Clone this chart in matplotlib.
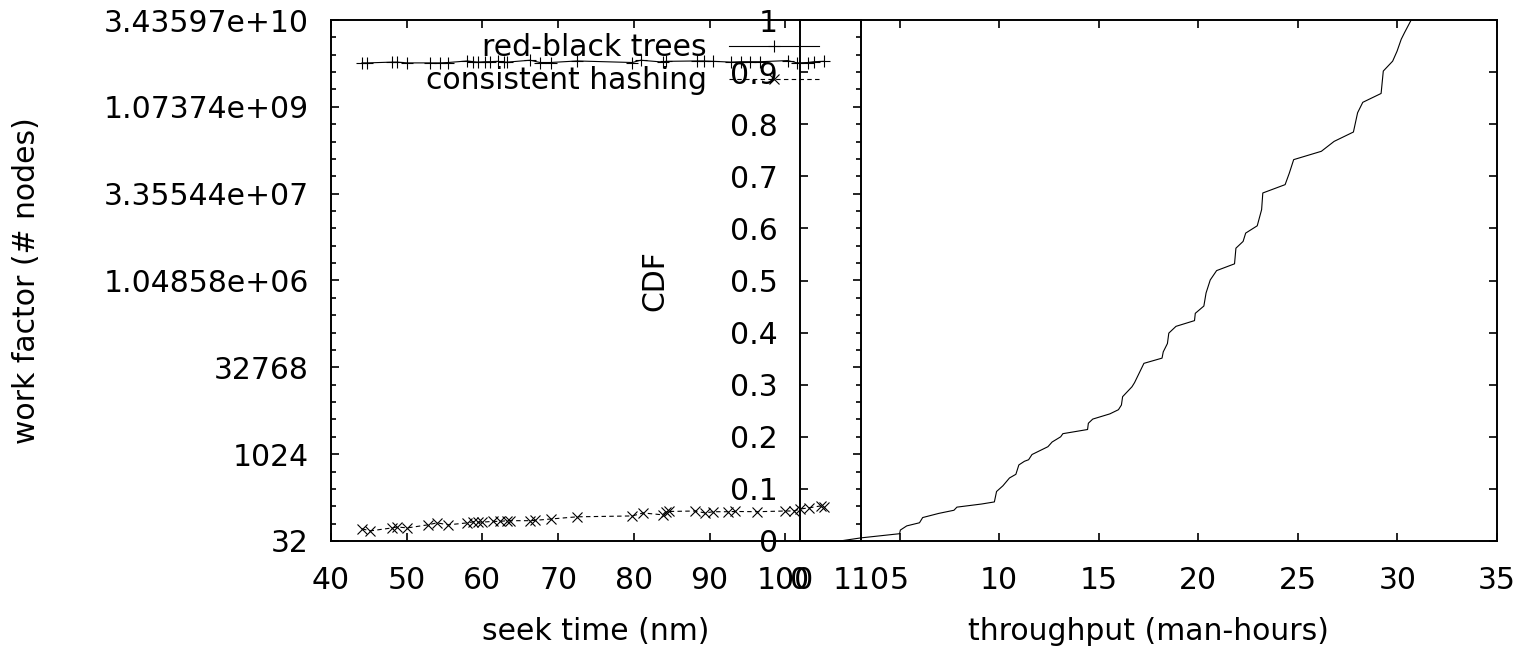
import numpy as np
import matplotlib
matplotlib.use("Agg")
from matplotlib import pyplot
from matplotlib.ticker import FixedLocator, NullFormatter

pyplot.rcParams['font.family'] = ['DejaVu Sans']
pyplot.rcParams['font.size'] = 21.5

# left panel: seek time vs work factor
rb_x = [44.1, 44.8, 48.1, 48.7, 50.1, 53.1, 54.4, 55.5, 58.0, 58.8, 59.4, 60.4,
        61.0, 62.0, 62.8, 63.3, 66.3, 67.6, 69.0, 72.5, 79.8, 80.9, 83.9, 84.2,
        88.4, 89.2, 90.5, 92.8, 94.1, 95.4, 96.7, 100.3, 101.6, 103.0, 103.8, 105.1]
rb_y = [6.2e9, 6.2e9, 6.4e9, 6.4e9, 6.2e9, 6.2e9, 6.2e9, 6.3e9, 6.7e9, 6.5e9, 6.4e9, 6.5e9,
        6.5e9, 6.6e9, 6.4e9, 6.4e9, 6.9e9, 6.3e9, 6.3e9, 6.7e9, 6.3e9, 6.9e9, 6.4e9, 6.6e9,
        6.7e9, 6.7e9, 6.6e9, 6.4e9, 6.5e9, 6.5e9, 6.5e9, 6.8e9, 6.2e9, 6.3e9, 6.5e9, 6.6e9]

ch_x = [44.1, 45.2, 48.1, 48.7, 50.1, 52.8, 54.0, 55.5, 58.0, 58.8, 59.4, 60.0,
        61.4, 62.3, 63.3, 63.7, 66.3, 67.0, 69.0, 72.5, 79.8, 81.2, 83.8, 84.2,
        84.6, 88.1, 89.4, 90.5, 92.5, 93.4, 96.3, 100.0, 101.1, 102.0, 103.1, 104.7, 105.1]
ch_y = [52, 48, 54, 56, 54, 61, 66, 61, 66, 69, 68, 68,
        70, 70, 72, 72, 72, 73, 77, 84, 87, 98, 91, 103,
        104, 106, 98, 103, 103, 104, 103, 106, 106, 115, 120, 130, 125]

# right panel: throughput CDF
cdf_x = [0.0, 2.0, 3.06, 5.0, 5.04, 5.36, 6.0, 6.16, 6.97, 7.73, 7.88, 9.12, 9.76,
         9.87, 10.19, 10.52, 10.84, 10.99, 11.27, 11.48, 11.65, 12.45, 12.66, 13.09,
         13.2, 14.44, 14.48, 14.7, 15.56, 15.99, 16.14, 16.2, 16.67, 16.8, 17.27,
         18.18, 18.24, 18.45, 18.52, 18.88, 19.81, 19.85, 20.28, 20.39, 20.6, 20.92,
         21.82, 21.89, 22.25, 22.38, 22.96, 23.18, 23.24, 24.36, 24.57, 24.79, 26.18,
         26.82, 27.79, 28.0, 28.26, 29.18, 29.29, 29.76, 29.98, 30.19, 30.36, 30.69]
cdf_y = [0.0, 0.0, 0.006, 0.014, 0.021, 0.029, 0.035, 0.045, 0.053, 0.059, 0.065, 0.071, 0.075,
         0.095, 0.106, 0.121, 0.128, 0.146, 0.153, 0.156, 0.166, 0.181, 0.19, 0.2,
         0.206, 0.214, 0.226, 0.234, 0.244, 0.252, 0.261, 0.277, 0.296, 0.304, 0.341,
         0.351, 0.363, 0.379, 0.399, 0.412, 0.423, 0.437, 0.451, 0.476, 0.501, 0.519,
         0.532, 0.562, 0.575, 0.591, 0.605, 0.636, 0.668, 0.684, 0.706, 0.732, 0.748,
         0.767, 0.785, 0.822, 0.842, 0.859, 0.902, 0.921, 0.94, 0.963, 0.976, 1.0]


def style_axes(ax):
    for s in ax.spines.values():
        s.set_linewidth(1.4)
    ax.tick_params(which='both', direction='in', top=True, right=True, width=1.2)
    ax.tick_params(which='major', length=6)
    ax.tick_params(which='minor', length=3.5)
    ax.tick_params(axis='x', pad=18)
    ax.tick_params(axis='y', pad=16)


fig = pyplot.figure(figsize=(15.23, 6.48), dpi=100)
W, H = 1523.0, 648.0
bottom = (H - 541) / H
height = 521 / H

ax1 = fig.add_axes([331 / W, bottom, 530 / W, height])
ax1.set_facecolor('none')
ax1.plot(rb_x, rb_y, color='black', lw=0.8, marker='+', ms=8, mew=0.8,
         label='red-black trees')
ax1.plot(ch_x, ch_y, color='black', lw=0.8, ls=(0, (4, 3)), marker='x', ms=7, mew=0.8,
         label='consistent hashing')
ax1.set_yscale('log', base=2)
ax1.set_xlim(40, 110)
ax1.set_ylim(2 ** 5, 2 ** 35)
ax1.set_xticks(range(40, 111, 10))
major = [2.0 ** k for k in range(5, 36, 5)]
ax1.yaxis.set_major_locator(FixedLocator(major))
ax1.yaxis.set_minor_locator(FixedLocator([2.0 ** k for k in range(5, 36)]))
ax1.yaxis.set_minor_formatter(NullFormatter())
ax1.set_yticklabels(['32', '1024', '32768', '1.04858e+06', '3.35544e+07',
                     '1.07374e+09', '3.43597e+10'])
style_axes(ax1)
ax1.set_xlabel('seek time (nm)', va='top')
ax1.xaxis.set_label_coords(0.5, -0.146)
ax1.set_ylabel('work factor (# nodes)', va='center')
ax1.yaxis.set_label_coords(-0.574, 0.5)
ax1.legend(loc='upper right', bbox_to_anchor=(819 / W, 1 - 33 / H),
           bbox_transform=fig.transFigure, frameon=False, markerfirst=False,
           numpoints=1, handlelength=3.0, handletextpad=0.75, labelspacing=0.15,
           borderpad=0, borderaxespad=0)

ax2 = fig.add_axes([800 / W, bottom, 697 / W, height])
ax2.set_facecolor('none')
ax2.plot(cdf_x, cdf_y, color='black', lw=0.8)
ax2.set_xlim(0, 35)
ax2.set_ylim(0, 1)
ax2.set_xticks(range(0, 36, 5))
ax2.set_yticks(np.arange(0, 1.01, 0.1))
ax2.set_yticklabels(['0', '0.1', '0.2', '0.3', '0.4', '0.5', '0.6', '0.7', '0.8', '0.9', '1'])
style_axes(ax2)
ax2.set_xlabel('throughput (man-hours)', va='top')
ax2.xaxis.set_label_coords(0.5, -0.146)
ax2.set_ylabel('CDF', va='center')
ax2.yaxis.set_label_coords(-0.208, 0.5)

fig.savefig('out.png', dpi=100, facecolor='white')
